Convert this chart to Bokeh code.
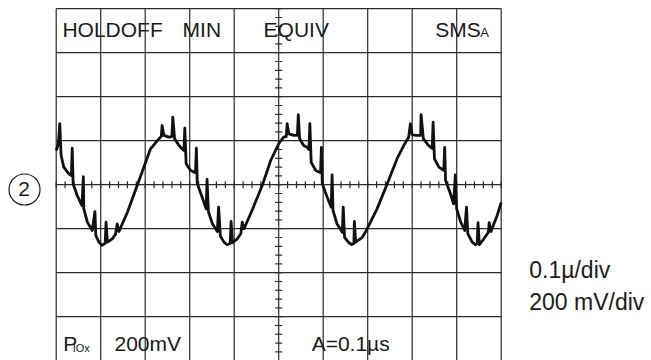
import math
from bokeh.plotting import figure
from bokeh.models import Range1d, Label
from bokeh.embed import file_html
from bokeh.resources import INLINE

# time in ns (100 ns/div), voltage in mV (200 mV/div)
t_ns = [0, 5, 8, 11, 17, 28, 34, 36, 38, 47, 58, 61, 62, 70, 81, 87, 89, 96, 103, 110,
        112, 115, 126, 133, 137, 141, 160, 182, 201, 212, 231, 236, 238, 242, 253, 260, 262, 266, 276,
        283, 287, 289, 292, 302, 313, 315, 317, 328, 337, 339, 342, 351, 362, 365, 369, 377, 384, 391, 393,
        396, 407, 415, 418, 422, 440, 463, 482, 500, 511, 517, 519, 523, 534, 542, 544, 547, 556,
        564, 568, 570, 573, 583, 594, 596, 598, 609, 618, 620, 622, 631, 643, 645, 648, 658, 664, 669, 670,
        673, 688, 699, 721, 744, 766, 781, 792, 796, 800, 811, 819, 820, 825, 837,
        845, 847, 850, 860, 871, 873, 875, 886, 893, 897, 900, 909, 918, 922, 925, 935, 942, 946, 948, 951,
        961, 971, 973, 977, 991, 1000]
v_mV = [155, 187, 277, 133, 80, 50, 42, 166, 4, -49, -95, 37, -110, -170, -208, -122, -231, -261, -276, -267,
        -170, -261, -246, -226, -178, -213, -125, -4, 102, 163, 209, 219, 269, 224, 216, 219, 307, 209, 178,
        163, 155, 257, 95, 65, 55, 166, 4, -57, -110, 24, -122, -178, -213, -102, -234, -261, -273, -267, -167,
        -264, -246, -222, -170, -200, -117, -4, 110, 186, 216, 219, 277, 231, 224, 224, 318, 209, 178,
        170, 160, 277, 102, 65, 55, 170, 4, -57, -102, 45, -117, -178, -216, -102, -239, -264, -272, -267, -167,
        -261, -239, -200, -110, 4, 118, 178, 216, 277, 227, 224, 224, 318, 209, 178,
        165, 284, 118, 80, 65, 170, 19, -41, -87, 45, -110, -170, -208, -102, -223, -261, -273, -267, -173, -273,
        -246, -217, -173, -213, -140, -80]

grid_t = [0, 100, 200, 300, 400, 500, 600, 700, 800, 900, 1000]
grid_v = [-800, -600, -400, -200, 0, 200, 400, 600, 800]
minor_t = [20 * i for i in range(0, 51)]
minor_v = [40 * i for i in range(-20, 21)]

INK = "#1a1a1a"
FONT = "Liberation Sans"

p = figure(width=651, height=360,
           x_range=Range1d(-125.2, 1337.8), y_range=Range1d(-799.1, 837.3),
           min_border=0, x_axis_type=None, y_axis_type=None,
           toolbar_location=None, output_backend="svg", outline_line_color=None)

# graticule
p.segment(x0=grid_t, y0=[grid_v[0]] * len(grid_t), x1=grid_t, y1=[grid_v[-1]] * len(grid_t),
          line_color="#2a2a2a", line_width=1.2)
p.segment(x0=[grid_t[0]] * len(grid_v), y0=grid_v, x1=[grid_t[-1]] * len(grid_v), y1=grid_v,
          line_color="#2a2a2a", line_width=1.2)
# centre minor ticks
p.scatter(x=minor_t, y=[0] * len(minor_t), marker="dash", angle=math.pi / 2, size=7,
          line_color="#2a2a2a", line_width=1.2)
p.scatter(x=[500] * len(minor_v), y=minor_v, marker="dash", size=7,
          line_color="#2a2a2a", line_width=1.2)

# trace
p.line(t_ns, v_mV, line_color="#111111", line_width=2.8, line_join="round")

def lab(x, y, text, size="21px", align="left"):
    p.add_layout(Label(x=x, y=y, text=text, text_font=FONT, text_font_size=size,
                       text_color=INK, text_align=align, text_baseline="alphabetic"))

lab(14, 707, "HOLDOFF")
lab(284, 707, "MIN")
lab(466, 707, "EQUIV")
lab(852, 707, "SMS")
lab(953, 692, "A", "13px")
lab(16, -722, "P")
lab(37, -741, "IOx", "11px")
lab(131, -722, "200mV")
lab(574, -722, "A=0.1µs")
lab(1063, -386, "0.1µ/div", "23px")
lab(1063, -534, "200 mV/div", "23px")

# channel marker
p.scatter(x=[-71.2], y=[-21.8], marker="circle", size=31, fill_color=None,
          line_color=INK, line_width=1.2)
lab(-72.4, -18, "2", "21px", "center")

open("out.html", "w").write(file_html(p, INLINE))
